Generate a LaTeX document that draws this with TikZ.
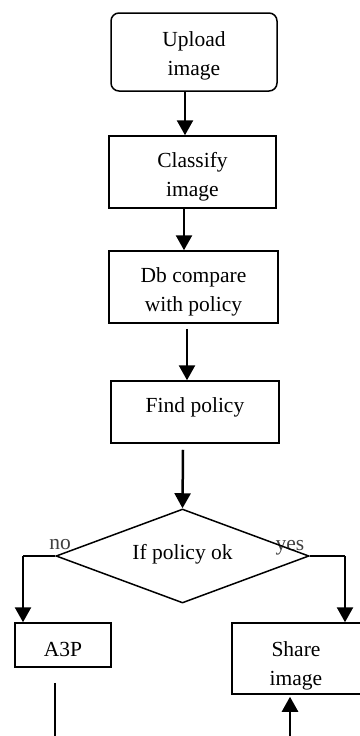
\documentclass[tikz,border=0pt]{standalone}
\usepackage{fontspec}
\setmainfont{Liberation Serif}
\usetikzlibrary{shapes.geometric,arrows.meta}
\begin{document}
\begin{tikzpicture}[x=1pt,y=-1pt,
  box/.style={draw=black,line width=1.5pt,inner sep=0pt},
  txt/.style={font=\fontsize{21.5}{29}\selectfont,inner sep=0pt,anchor=base},
  lbl/.style={font=\fontsize{21.5}{29}\selectfont,inner sep=0pt,anchor=base,text=black!75},
  arr/.style={line width=2.5pt,-{Triangle[length=15pt,width=16pt]}},
  brn/.style={line width=2pt},
]
\useasboundingbox (0,0) rectangle (359,736);
% shapes
\node[box,rounded corners=8pt,minimum width=166pt,minimum height=78pt] (upload) at (194,52) {};
\node[box,minimum width=167pt,minimum height=72pt] (classify) at (192.5,172) {};
\node[box,minimum width=169pt,minimum height=72pt] (db) at (193.5,287) {};
\node[box,minimum width=168pt,minimum height=62pt] (find) at (195,412) {};
\node[box,minimum width=96pt,minimum height=44pt] (a3p) at (63,645) {};
\node[box,minimum width=130pt,minimum height=71pt] (share) at (297,658.5) {};
% labels on branches
\node[lbl] (no) at (60,549) {no};
\node[lbl] (yes) at (290,550) {yes};
\node[draw=black,line width=1.5pt,diamond,inner sep=0pt,minimum width=253pt,minimum height=94pt] (dia) at (182.5,556) {};
% texts
\node[txt] (tupload) at (194,46) {\begin{tabular}[t]{@{}c@{}}Upload\\image\end{tabular}};
\node[txt] (tclassify) at (192.5,167) {\begin{tabular}[t]{@{}c@{}}Classify\\image\end{tabular}};
\node[txt] (tdb) at (193.5,282) {\begin{tabular}[t]{@{}c@{}}Db compare\\with policy\end{tabular}};
\node[txt] (tfind) at (195,412) {Find policy};
\node[txt] (tdia) at (182.5,559) {If policy ok};
\node[txt] (ta3p) at (63,656) {A3P};
\node[txt] (tshare) at (296,656) {\begin{tabular}[t]{@{}c@{}}Share\\image\end{tabular}};
% free ends
\coordinate (a3pend) at (55,745);
\coordinate (sharestart) at (290,745);
% connectors
\draw[arr] ([xshift=-9pt]upload.south) -- ([xshift=-7.5pt]classify.north);
\draw[arr] ([xshift=-8.5pt]classify.south) -- ([xshift=-9.5pt]db.north);
\draw[arr] ([xshift=-6.5pt,yshift=-5pt]db.south) -- ([xshift=-8pt]find.north);
\draw[arr] ([xshift=-12pt,yshift=-6pt]find.south) -- (dia.north);
\draw[brn] (dia.west) -- ([xshift=-40pt]a3p.north |- dia.west) coordinate (nocorner);
\draw[arr] (nocorner) -- ([xshift=-40pt]a3p.north);
\draw[brn] (dia.east) -- ([xshift=48pt]share.north |- dia.east) coordinate (yescorner);
\draw[arr] (yescorner) -- ([xshift=48pt]share.north);
\draw[brn] ([xshift=-8pt,yshift=-15pt]a3p.south) -- (a3pend);
\draw[arr] (sharestart) -- ([xshift=-7pt,yshift=-2pt]share.south);
\end{tikzpicture}
\end{document}
